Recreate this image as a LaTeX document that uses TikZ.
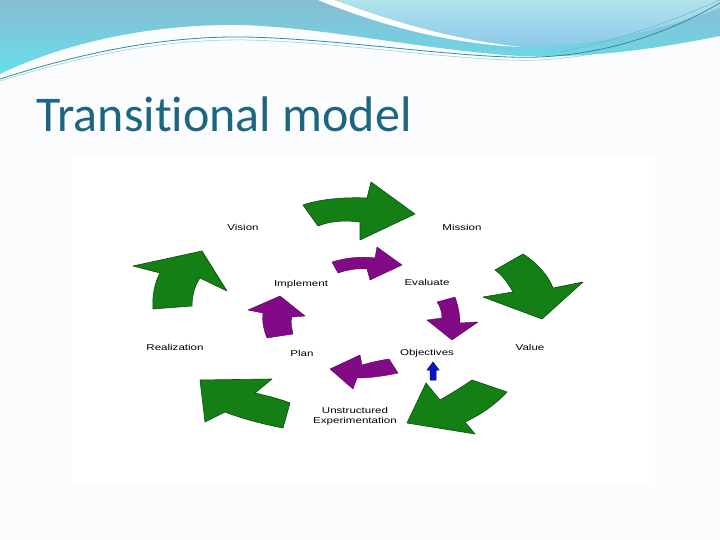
\documentclass[tikz,border=0pt]{standalone}
\usepackage{fontspec}
\usepackage{xcolor}
\usepackage{tikz}
\usetikzlibrary{positioning}

\newfontfamily\titlefont[Ligatures=NoCommon]{Carlito}
\newfontfamily\labelfont[FakeStretch=1.36]{Liberation Sans}

\definecolor{slidebg}{HTML}{FAFCFD}
\definecolor{hdtop}{HTML}{88BCD3}
\definecolor{hdcyan}{HTML}{66DEEA}
\definecolor{hdpale}{HTML}{B0E3EA}
\definecolor{hdlow}{HTML}{8CC8EA}
\definecolor{hdline}{HTML}{2A8FA0}
\definecolor{titleblue}{HTML}{1C6680}
\definecolor{arrgreen}{HTML}{137F15}
\definecolor{arrpurple}{HTML}{820A86}
\definecolor{arrblue}{HTML}{0A14C8}

\begin{document}
\begin{tikzpicture}[
    x=1pt, y=-1pt,
    lbl/.style={font=\labelfont\fontsize{8.5}{10}\selectfont, inner sep=0pt, align=center},
    greenarr/.style={fill=arrgreen, draw=arrgreen!60!black, line width=0.6pt, line join=round},
    purplearr/.style={fill=arrpurple, draw=arrpurple!60!black, line width=0.4pt, line join=round},
    bluearr/.style={fill=arrblue, draw=arrblue!50!black, line width=0.5pt}
  ]
    \useasboundingbox (0,0) rectangle (720,540);
    \fill[slidebg] (0,0) rectangle (720,540);

    % Header waves
    \shade[top color=hdtop, bottom color=hdcyan] (0,0) -- (720,0) -- (720,36)
      .. controls (650,50) and (590,58) .. (520,56)
      .. controls (420,50) and (310,24) .. (225,25)
      .. controls (140,26) and (60,45) .. (0,74) -- cycle;
    \shade[top color=hdpale, bottom color=hdlow] (334,0)
      .. controls (395,24) and (455,42) .. (522,46)
      .. controls (580,48) and (650,34) .. (720,8) -- (720,0) -- cycle;
    \fill[white] (318,0) .. controls (382,26) and (450,44) .. (522,47)
      .. controls (455,40) and (396,23) .. (334,0) -- cycle;
    \draw[hdline, line width=0.8pt] (0,79) .. controls (90,50) and (170,36) .. (245,37)
      .. controls (345,39) and (470,60) .. (540,57)
      .. controls (620,53) and (680,26) .. (720,3);
    \draw[hdline!50, line width=0.5pt] (0,81) .. controls (90,53) and (170,39) .. (245,40)
      .. controls (345,42) and (470,63) .. (540,60)
      .. controls (620,56) and (680,29) .. (720,6);
    \draw[hdline!70, line width=0.4pt] (560,52) .. controls (620,40) and (670,22) .. (720,0);

    % Title
    \node[anchor=base west, inner sep=0pt, text=titleblue,
      font=\titlefont\fontsize{50}{50}\selectfont] (title) at (36,132) {Transitional model};

    % Picture area
    \fill[white] (72,155) rectangle (655,482);

    % Outer cycle (green)
    \draw[greenarr] (303,205) -- (318,226) .. controls (330,221) and (345,220) .. (360,222)
      -- (360,240) -- (415,214) -- (371,182) -- (367,198)
      .. controls (345,197) and (320,199) .. cycle;
    \draw[greenarr] (495,270) -- (523,254) .. controls (537,263) and (548,275) .. (553,288)
      -- (583,282) -- (542,319) -- (483,297) -- (513,292)
      .. controls (508,283) and (502,275) .. cycle;
    \draw[greenarr] (472,380) -- (507,392) .. controls (495,405) and (480,415) .. (465,422)
      -- (475,434) -- (407,423) -- (426,383) -- (440,400)
      .. controls (452,393) and (462,387) .. cycle;
    \draw[greenarr] (200,380) -- (272,379) -- (255,393)
      .. controls (268,396) and (280,399) .. (290,403) -- (283,428)
      .. controls (262,424) and (240,418) .. (225,412) -- (205,422) -- cycle;
    \draw[greenarr] (133,266) -- (202,251) -- (227,291) -- (200,278)
      .. controls (195,285) and (192,295) .. (192,306) -- (153,309)
      .. controls (152,295) and (155,282) .. (160,273) -- cycle;

    % Inner cycle (purple)
    \draw[purplearr] (332,262) -- (338,273) .. controls (347,270) and (357,268) .. (367,269)
      -- (370,280) -- (402,265) -- (377,247) -- (375,258)
      .. controls (360,256) and (345,258) .. cycle;
    \draw[purplearr] (437,302) -- (455,297) .. controls (458,305) and (460,315) .. (460,323)
      -- (478,322) -- (452,340) -- (427,320) -- (442,318)
      .. controls (442,312) and (440,306) .. cycle;
    \draw[purplearr] (389,359) -- (398,373) .. controls (385,376) and (370,378) .. (357,378)
      -- (353,389) -- (330,369) -- (360,355) -- (362,365)
      .. controls (372,362) and (382,360) .. cycle;
    \draw[purplearr] (248,310) -- (280,296) -- (305,316) -- (292,317)
      .. controls (290,322) and (292,328) .. (293,334) -- (267,338)
      .. controls (263,328) and (262,320) .. (263,313) -- cycle;

    % Small arrow under Objectives
    \draw[bluearr] (433,362) -- (439,370) -- (436,370) -- (436,380) -- (430,380)
      -- (430,370) -- (427,370) -- cycle;

    % Labels
    \node[lbl] (vision) at (243,227) {Vision};
    \node[lbl] (mission) at (462,227) {Mission};
    \node[lbl] (implement) at (301,284) {Implement};
    \node[lbl] (evaluate) at (427,282) {Evaluate};
    \node[lbl] (realization) at (175,347) {Realization};
    \node[lbl] (plan) at (302,353) {Plan};
    \node[lbl] (objectives) at (427,353) {Objectives};
    \node[lbl] (value) at (530,347) {Value};
    \node[lbl] (unstruct) at (355,416) {Unstructured\\Experimentation};
\end{tikzpicture}
\end{document}
